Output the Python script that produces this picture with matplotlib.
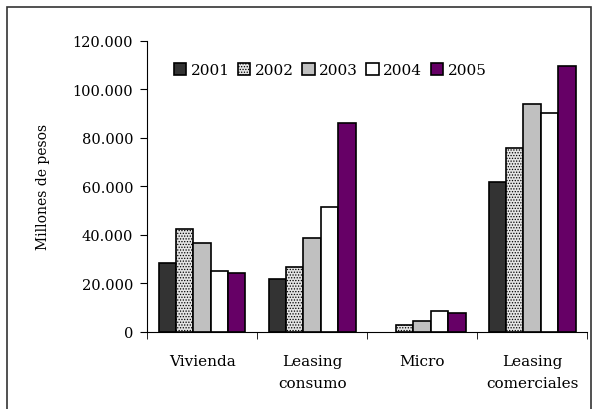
import numpy as np
import matplotlib.pyplot as plt
from matplotlib.patches import Rectangle
from matplotlib.ticker import FuncFormatter

categorias = ["Vivienda", "Leasing\nconsumo", "Micro", "Leasing\ncomerciales"]
anios = ["2001", "2002", "2003", "2004", "2005"]
v2001 = [28500, 21800, 0, 61800]
v2002 = [42500, 26700, 3000, 75800]
v2003 = [36500, 38700, 4300, 93800]
v2004 = [25000, 51500, 8500, 90200]
v2005 = [24200, 86000, 7800, 109800]
series = [v2001, v2002, v2003, v2004, v2005]

colores = ["#333333", "#e4e4e4", "#c0c0c0", "#ffffff", "#660066"]
tramas = [None, "......", None, None, None]

plt.rcParams['font.family'] = ['DejaVu Serif']
plt.rcParams['hatch.color'] = '#999999'
plt.rcParams['hatch.linewidth'] = 0.6

fig = plt.figure(figsize=(5.94, 4.10), dpi=100)
ax = fig.add_axes([0.2475, 0.188, 0.741, 0.71])

x = np.arange(len(categorias))
w = 0.158
for i, s in enumerate(series):
    lw = [1.2 if v > 0 else 0 for v in s]
    ax.bar(x + (i - 2) * w, s, w, color=colores[i], edgecolor='black',
           linewidth=lw, hatch=tramas[i], label=anios[i])

ax.set_xlim(-0.5, len(categorias) - 0.5)
ax.set_ylim(0, 120000)
ax.set_yticks(np.arange(0, 120001, 20000))
ax.yaxis.set_major_formatter(FuncFormatter(lambda v, p: f"{int(v):,}".replace(",", ".")))
ax.set_xticks(x)
ax.set_xticklabels(categorias, fontsize=11, linespacing=1.7)
ax.set_xticks(np.arange(-0.5, len(categorias)), minor=True)
ax.tick_params(axis='x', which='major', length=0, pad=16)
ax.tick_params(axis='x', which='minor', length=5, direction='out')
ax.tick_params(axis='y', length=5, direction='out', labelsize=10.5, pad=5)
for sp in ['top', 'right']:
    ax.spines[sp].set_visible(False)
ax.set_ylabel("Millones de pesos", fontsize=10, labelpad=16)

ax.legend(ncol=5, frameon=False, loc='upper left', bbox_to_anchor=(0.03, 0.97),
          handlelength=0.8, handleheight=0.8, handletextpad=0.3, columnspacing=0.55,
          fontsize=11)

fig.patches.append(Rectangle((0.012, -0.01), 0.983, 0.99, transform=fig.transFigure,
                             fill=False, edgecolor='#333333', linewidth=1.2))

fig.savefig("out.png", dpi=100)
